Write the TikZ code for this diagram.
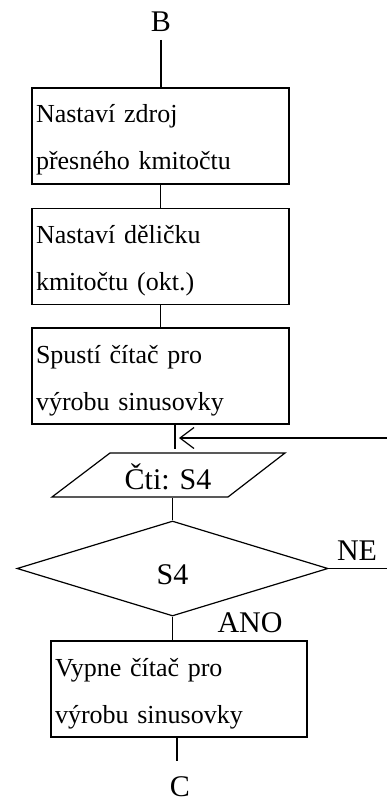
\documentclass[tikz,border=0pt]{standalone}
\usepackage{fontspec}
\setmainfont{Liberation Serif}
\usetikzlibrary{shapes.geometric,arrows.meta}
\newcommand{\twolines}[2]{\rule{0pt}{35pt}#1\\#2\rule[-14pt]{0pt}{14pt}}
\tikzset{
  every path/.style={line width=1.2pt},
  procbox/.style={draw, rectangle, inner xsep=4pt, inner ysep=0pt, text width=249pt, align=left,
    minimum width=257pt, minimum height=96pt, font=\fontsize{26pt}{47pt}\selectfont},
  lbl/.style={inner sep=0pt, font=\fontsize{30pt}{36pt}\selectfont},
  decide/.style={draw, diamond, inner sep=0pt, minimum width=311pt, minimum height=95pt,
    text height=31pt, text depth=0pt, font=\fontsize{30pt}{36pt}\selectfont},
  retarrow/.style={-{Straight Barb[length=14pt,width=21pt]}}
}
\begin{document}
\begin{tikzpicture}[x=1pt,y=-1pt]
\path[use as bounding box] (0,0) rectangle (387,802);
% labels
\node[lbl, anchor=base] (B) at (161,32) {B};
\node[lbl, anchor=base] (C) at (180,796) {C};
% boxes
\node[procbox] (b1) at (160.5,136) {\twolines{Nastaví zdroj}{přesného kmitočtu}};
\node[procbox] (b2) at (160.5,256.5) {\twolines{Nastaví děličku}{kmitočtu (okt.)}};
\node[procbox] (b3) at (160.5,376) {\twolines{Spustí čítač pro}{výrobu sinusovky}};
\node[procbox, minimum width=256pt, text width=248pt] (b4) at (179,689) {\twolines{Vypne čítač pro}{výrobu sinusovky}};
% input parallelogram
\draw (110,453) -- (285,453) -- (228,497) -- (52,497) -- cycle;
\node[lbl, minimum height=44pt, text height=28pt, text depth=0pt] (rd) at (168,475) {Čti: S4};
% decision
\node[decide] (dia) at (172.5,568.5) {S4};
\node[lbl, anchor=base] (ne) at (357,560) {NE};
\node[lbl, anchor=base] (ano) at (250,632) {ANO};
% coordinates
\coordinate (b0) at (161,40);
\coordinate (g) at (175,449);
\coordinate (ret) at (387,438);
\coordinate (rettip) at (179,438);
\coordinate (neend) at (387,568);
\coordinate (c1) at (177,761);
% connectors
\draw (b0) -- (b0 |- b1.north);
\draw (b1) -- (b2);
\draw (b2) -- (b3);
\draw (g |- b3.south) -- (g);
\draw[retarrow] (ret) -- (rettip);
\draw (dia.north |- rd.south) -- (dia.north);
\draw (dia.east) -- (dia.east -| neend);
\draw (dia.south) -- (dia.south |- b4.north);
\draw (c1 |- b4.south) -- (c1);
\end{tikzpicture}
\end{document}
